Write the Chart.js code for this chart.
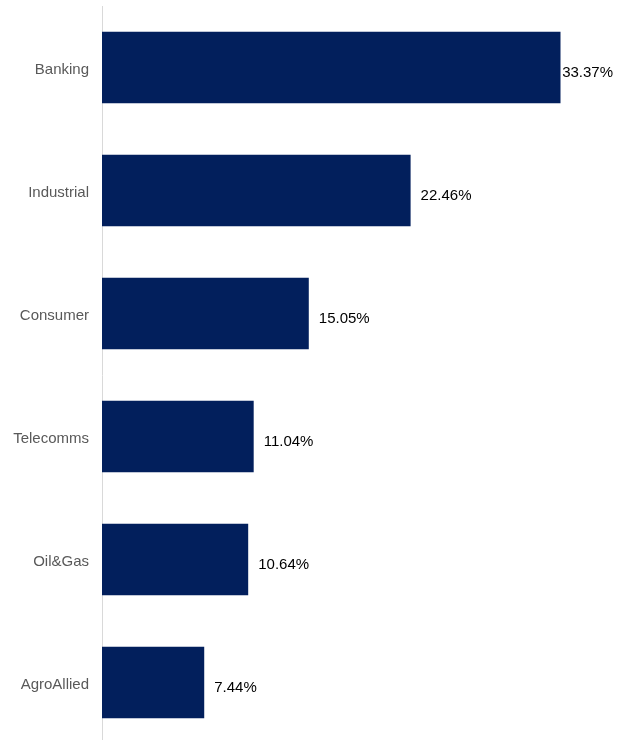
<!DOCTYPE html>
<html>
<head>
<meta charset="utf-8">
<script src="https://cdn.jsdelivr.net/npm/chart.js@4"></script>
<style>
  html, body { margin:0; padding:0; background:#fff; overflow:hidden; }
  #wrap { width:620px; height:740px; overflow:hidden; }
  #wrap canvas { display:block; }
</style>
</head>
<body>
<div id="wrap"><canvas id="chart" width="620" height="744"></canvas></div>
<script>
const sectors = ['Banking', 'Industrial', 'Consumer', 'Telecomms', 'Oil&Gas', 'AgroAllied'];
const shares = [33.37, 22.46, 15.05, 11.04, 10.64, 7.44];

// value labels drawn just past the end of each bar
const valueLabels = {
    id: 'valueLabels',
    afterDatasetsDraw(chart) {
        const ctx = chart.ctx;
        const meta = chart.getDatasetMeta(0);
        ctx.save();
        ctx.font = '15px "Liberation Sans", Arial, sans-serif';
        ctx.fillStyle = '#000';
        ctx.textBaseline = 'middle';
        ctx.textAlign = 'left';
        meta.data.forEach((bar, i) => {
            const txt = shares[i].toFixed(2) + '%';
            const w = ctx.measureText(txt).width;
            let x = bar.x + 10;
            if (x + w > 613) x = 613 - w;
            ctx.fillText(txt, x, bar.y + 5);
        });
        ctx.restore();
    }
};

function init(){
    new Chart(document.getElementById('chart').getContext('2d'), {
        type: 'bar',
        data: {
            labels: sectors,
            datasets: [{ data: shares, backgroundColor: '#021f5c', borderWidth: 0,
                barPercentage: 0.58, categoryPercentage: 1 }]
        },
        options: {
            indexAxis: 'y',
            responsive: false,
            animation: false,
            layout: { padding: { top: 6, right: 0, bottom: 0, left: 0 } },
            plugins: { legend: { display: false }, tooltip: { enabled: false } },
            scales: {
                x: { display: false, min: 0, max: 37.7 },
                y: {
                    grid: { display: false, drawTicks: false },
                    border: { display: true, color: '#d9d9d9', width: 1 },
                    ticks: { color: '#595959', padding: 13, labelOffset: 2,
                        font: { family: '"Liberation Sans", Arial, sans-serif', size: 15 } },
                    afterFit(scale) {
                        scale.width = 102;
                        scale.paddingTop = 0;
                        scale.paddingBottom = 0;
                    }
                }
            }
        },
        plugins: [valueLabels]
    });
}

document.addEventListener('DOMContentLoaded', init);
</script>
</body>
</html>
